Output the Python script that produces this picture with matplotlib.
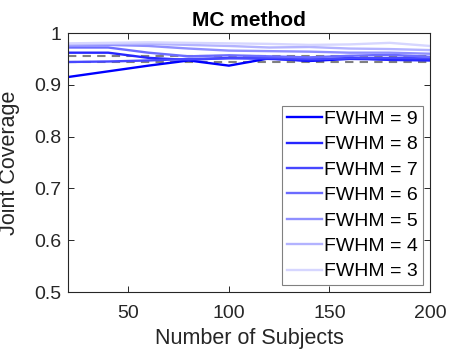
import matplotlib
matplotlib.use("Agg")
import matplotlib.pyplot as plt

plt.rcParams['font.family'] = ['Liberation Sans', 'DejaVu Sans']

subjects = [20, 40, 60, 80, 100, 120, 140, 160, 180, 200]
fwhm_labels = ["FWHM = 9", "FWHM = 8", "FWHM = 7", "FWHM = 6", "FWHM = 5", "FWHM = 4", "FWHM = 3"]
cov_9 = [0.915, 0.926, 0.937, 0.947, 0.937, 0.951, 0.946, 0.950, 0.949, 0.948]
cov_8 = [0.962, 0.962, 0.952, 0.948, 0.952, 0.950, 0.947, 0.952, 0.948, 0.947]
cov_7 = [0.944, 0.945, 0.947, 0.950, 0.951, 0.952, 0.950, 0.951, 0.952, 0.951]
cov_6 = [0.972, 0.972, 0.962, 0.955, 0.957, 0.955, 0.953, 0.956, 0.958, 0.954]
cov_5 = [0.975, 0.977, 0.975, 0.970, 0.966, 0.965, 0.964, 0.962, 0.962, 0.960]
cov_4 = [0.978, 0.979, 0.979, 0.977, 0.975, 0.972, 0.973, 0.970, 0.969, 0.967]
cov_3 = [0.980, 0.981, 0.982, 0.981, 0.980, 0.979, 0.977, 0.978, 0.981, 0.975]
ci_bounds = [0.9436, 0.9564]

series = [cov_9, cov_8, cov_7, cov_6, cov_5, cov_4, cov_3]
fade = [0.0, 0.15, 0.28, 0.42, 0.56, 0.70, 0.84]
dark = (0.15, 0.15, 0.15)

fig = plt.figure(figsize=(4.49, 3.53), dpi=100)
ax = fig.add_axes([0.1514, 0.1728, 0.8063, 0.7337])

for b in ci_bounds:
    ax.axhline(b, color=(0.5, 0.5, 0.5), linestyle=(0, (4, 3)), linewidth=1.5, zorder=1)

for vals, lab, t in zip(series, fwhm_labels, fade):
    ax.plot(subjects, vals, color=(t, t, 1.0), linewidth=1.7, label=lab, zorder=2)

ax.set_xlim(20, 200)
ax.set_ylim(0.5, 1.0)
ax.set_xticks([50, 100, 150, 200])
ax.set_yticks([0.5, 0.6, 0.7, 0.8, 0.9, 1.0])
ax.set_yticklabels(["0.5", "0.6", "0.7", "0.8", "0.9", "1"])
ax.tick_params(direction="in", top=True, right=True, labelsize=14,
               colors=dark, length=4, width=0.7)
ax.tick_params(axis="x", pad=9)
ax.tick_params(axis="y", pad=5)
for s in ax.spines.values():
    s.set_color(dark)
    s.set_linewidth(0.8)

ax.set_xlabel("Number of Subjects", fontsize=15.5, color=dark, labelpad=5)
ax.set_ylabel("Joint Coverage", fontsize=15.5, color=dark, labelpad=10)
ax.set_title("MC method", fontsize=15, fontweight="bold", pad=5)

leg = ax.legend(loc="lower right", fontsize=14, frameon=True, fancybox=False,
                edgecolor=(0.5, 0.5, 0.5), framealpha=1, borderaxespad=0.35,
                handlelength=1.8, handletextpad=0.15, labelspacing=0.4,
                borderpad=0.25)
leg.get_frame().set_linewidth(0.8)

fig.savefig("out.png", dpi=100)
